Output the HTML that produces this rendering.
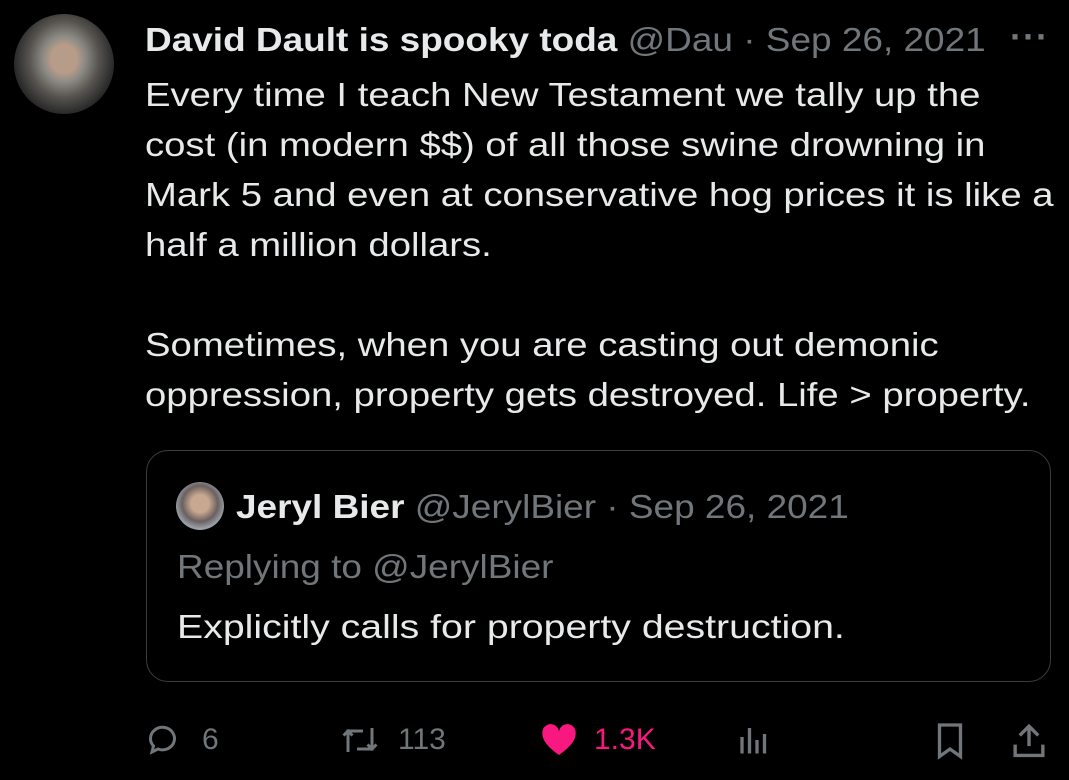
<!DOCTYPE html>
<html><head><meta charset="utf-8"><style>
body{margin:0;width:1069px;height:780px;background:#000;overflow:hidden;font-family:"Liberation Sans",sans-serif;color:#e7e9ea;position:relative}
.a{position:absolute;white-space:nowrap;transform-origin:0 0}
.body{font-size:33px;line-height:50px;transform:scaleX(1.16)}
.h{transform:scaleX(1.12)}
.g{color:#71767b}
</style></head><body>
<div class="a" style="left:14px;top:14px;width:100px;height:100px;border-radius:50%;background:radial-gradient(ellipse at 50% 45%,#b89c8a 0 18%,#8c8a84 30%,#55524e 50%,#2a2a2a 70%);"></div>
<div class="a h" style="left:145px;top:20px;font-size:33px;line-height:40px">
<span style="font-weight:bold">David Dault is spooky toda</span><span class="g"> @Dau · Sep 26, 2021</span></div>
<div class="a g" style="left:1010px;top:16px;font-size:36px;font-weight:bold;letter-spacing:1px">···</div>
<div class="a body" style="left:145px;top:70px">Every time I teach New Testament we tally up the<br>cost (in modern $$) of all those swine drowning in<br>Mark 5 and even at conservative hog prices it is like a<br>half a million dollars.<br><br>Sometimes, when you are casting out demonic<br>oppression, property gets destroyed. Life &gt; property.</div>
<div class="a" style="left:146px;top:450px;width:903px;height:230px;border:1px solid #3a3d40;border-radius:22px"></div>
<div class="a" style="left:176px;top:482px;width:48px;height:48px;border-radius:50%;background:radial-gradient(circle at 50% 45%,#c8a890 0 25%,#6a6060 50%,#9aa0a8 70%)"></div>
<div class="a h" style="left:236px;top:487px;font-size:33px;line-height:40px"><b>Jeryl Bier</b><span class="g"> @JerylBier · Sep 26, 2021</span></div>
<div class="a g h" style="left:177px;top:547px;font-size:33px;line-height:40px">Replying to @JerylBier</div>
<div class="a" style="left:177px;top:607px;font-size:33px;line-height:40px;transform:scaleX(1.19)">Explicitly calls for property destruction.</div>
<div>
<svg class="a" style="left:146px;top:722px" width="36" height="36" viewBox="0 0 24 24"><path d="M3 11a8 7.5 0 1 1 5 7l-4 2 1-4a7 7 0 0 1-2-5z" fill="none" stroke="#71767b" stroke-width="2"/></svg>
<div class="a g" style="left:202px;top:723px;font-size:30px">6</div>
<svg class="a" style="left:340px;top:722px" width="40" height="36" viewBox="0 0 26 24"><path d="M5 20V6h10M2 9l3-3 3 3M21 4v14H11M24 15l-3 3-3-3" fill="none" stroke="#71767b" stroke-width="2"/></svg>
<div class="a g" style="left:398px;top:723px;font-size:30px">113</div>
<svg class="a" style="left:538px;top:720px" width="42" height="40" viewBox="0 0 24 24"><path d="M12 21C5 16 2 12 2 8a5 5 0 0 1 10-1 5 5 0 0 1 10 1c0 4-3 8-10 13z" fill="#f91880"/></svg>
<div class="a" style="left:594px;top:723px;font-size:30px;color:#f91880">1.3K</div>
<svg class="a" style="left:736px;top:722px" width="36" height="36" viewBox="0 0 24 24"><path d="M4 21V10M9 21V4M14 21V12M19 21V8" stroke="#71767b" stroke-width="2.2"/></svg>
<svg class="a" style="left:932px;top:720px" width="36" height="40" viewBox="0 0 24 26"><path d="M5 3h14v21l-7-5-7 5z" fill="none" stroke="#71767b" stroke-width="2.2"/></svg>
<svg class="a" style="left:1010px;top:720px" width="38" height="40" viewBox="0 0 24 26"><path d="M12 17V4M6 10l6-6 6 6M3 16v7h18v-7" fill="none" stroke="#71767b" stroke-width="2.2"/></svg>
</div>
</body></html>
